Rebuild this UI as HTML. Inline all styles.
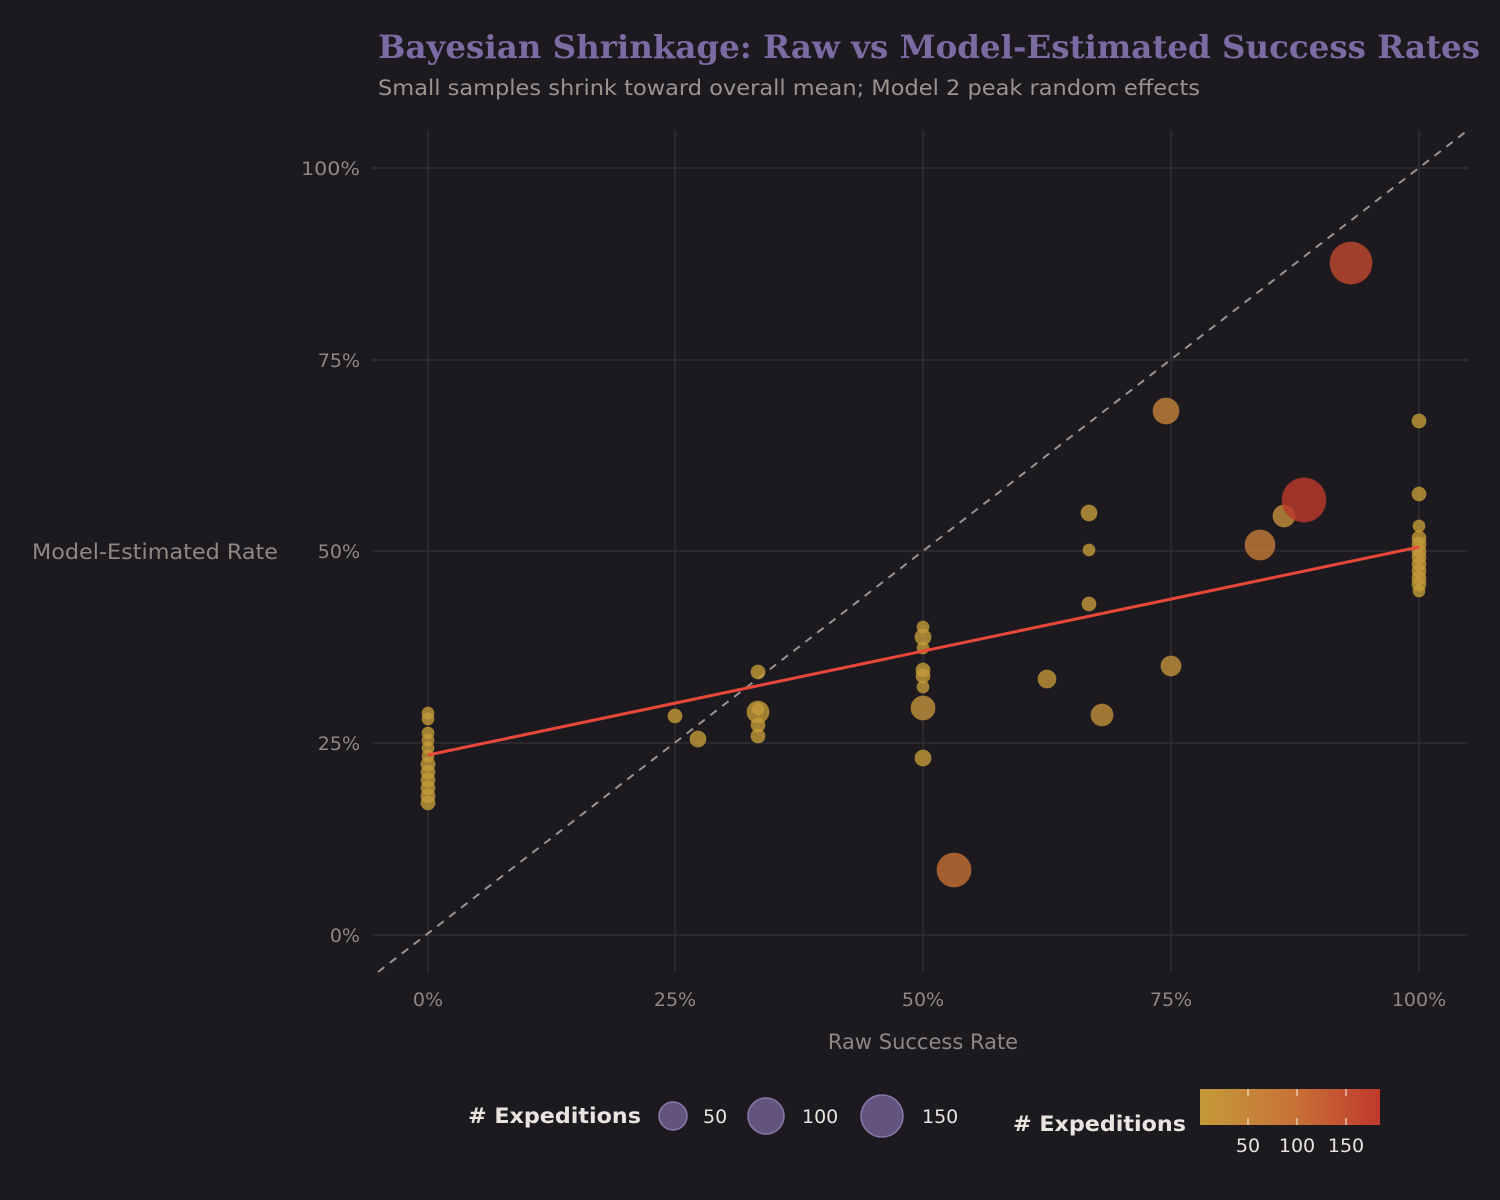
<!DOCTYPE html><html><head><style>body{margin:0;background:#1c1a1f}svg{display:block}text{font-family:"DejaVu Sans","Liberation Sans",sans-serif}</style></head><body>
<svg width="1500" height="1200" xmlns="http://www.w3.org/2000/svg">
<defs><linearGradient id="g" x1="0" x2="1"><stop offset="0" stop-color="#c49a38"/><stop offset="0.5" stop-color="#c87438"/><stop offset="1" stop-color="#c0392b"/></linearGradient></defs>
<rect width="1500" height="1200" fill="#1c1a1f"/>
<text x="378" y="58" font-weight="bold" font-size="32" fill="#7b6ba3" textLength="1102" lengthAdjust="spacingAndGlyphs" style="font-family:'DejaVu Serif','Liberation Serif',serif">Bayesian Shrinkage: Raw vs Model-Estimated Success Rates</text>
<text x="378" y="95" font-size="21" fill="#9a9490" textLength="822" lengthAdjust="spacingAndGlyphs">Small samples shrink toward overall mean; Model 2 peak random effects</text>
<g stroke="#302d33" stroke-width="1.5">
<line x1="428" y1="130" x2="428" y2="972"/><line x1="675" y1="130" x2="675" y2="972"/><line x1="923" y1="130" x2="923" y2="972"/><line x1="1171" y1="130" x2="1171" y2="972"/><line x1="1419" y1="130" x2="1419" y2="972"/>
<line x1="372" y1="168" x2="1468" y2="168"/><line x1="372" y1="360" x2="1468" y2="360"/><line x1="372" y1="551" x2="1468" y2="551"/><line x1="372" y1="743" x2="1468" y2="743"/><line x1="372" y1="935" x2="1468" y2="935"/>
</g>
<g font-size="19" fill="#8e8884" text-anchor="end">
<text x="360" y="175" textLength="59" lengthAdjust="spacingAndGlyphs">100%</text><text x="360" y="367">75%</text><text x="360" y="558">50%</text><text x="360" y="750">25%</text><text x="360" y="942">0%</text></g>
<g font-size="19" fill="#8e8884" text-anchor="middle">
<text x="428" y="1006">0%</text><text x="675" y="1006">25%</text><text x="923" y="1006">50%</text><text x="1171" y="1006">75%</text><text x="1419" y="1006">100%</text>
<text x="923" y="1049" font-size="21">Raw Success Rate</text></g>
<text x="32" y="559" font-size="21" fill="#8e8884" textLength="246" lengthAdjust="spacingAndGlyphs">Model-Estimated Rate</text>
<line x1="378" y1="972" x2="1468" y2="130" stroke="#9a9490" stroke-width="2" stroke-dasharray="8,7"/>
<g fill-opacity="0.8" stroke-opacity="0.5" stroke-width="1">
<g fill="#c49a38" stroke="#c49a38">
<circle cx="428" cy="713" r="6"/><circle cx="428" cy="719" r="6"/><circle cx="428" cy="733" r="6"/><circle cx="428" cy="740" r="6"/><circle cx="428" cy="748" r="6"/><circle cx="428" cy="756" r="6"/><circle cx="428" cy="764" r="7"/><circle cx="428" cy="772" r="7"/><circle cx="428" cy="780" r="7"/><circle cx="428" cy="788" r="7"/><circle cx="428" cy="796" r="7"/><circle cx="428" cy="803" r="7"/>
<circle cx="675" cy="716" r="7"/><circle cx="698" cy="739" r="8"/><circle cx="758" cy="672" r="7"/><circle cx="758" cy="736" r="7"/><circle cx="758" cy="725" r="7"/><circle cx="758" cy="712" r="11"/><circle cx="758" cy="709" r="6"/>
<circle cx="923" cy="627" r="6"/><circle cx="923" cy="637" r="8"/><circle cx="923" cy="648" r="6"/><circle cx="923" cy="670" r="7"/><circle cx="923" cy="676" r="7"/><circle cx="923" cy="687" r="6"/><circle cx="923" cy="758" r="8"/>
<circle cx="1089" cy="513" r="8"/><circle cx="1089" cy="550" r="6"/><circle cx="1089" cy="604" r="7"/>
<circle cx="1419" cy="421" r="7"/><circle cx="1419" cy="494" r="7"/><circle cx="1419" cy="526" r="6"/><circle cx="1419" cy="538" r="7"/><circle cx="1419" cy="544" r="7"/><circle cx="1419" cy="551" r="7"/><circle cx="1419" cy="557" r="7"/><circle cx="1419" cy="564" r="7"/><circle cx="1419" cy="571" r="7"/><circle cx="1419" cy="578" r="7"/><circle cx="1419" cy="584" r="7"/><circle cx="1419" cy="591" r="6"/>
</g>
<circle cx="923" cy="708" r="12" fill="#c2913a" stroke="#c2913a"/>
<circle cx="1047" cy="679" r="9" fill="#c2943a" stroke="#c2943a"/>
<circle cx="1102" cy="715" r="11" fill="#c28f3a" stroke="#c28f3a"/>
<circle cx="1171" cy="666" r="10" fill="#c2923a" stroke="#c2923a"/>
<circle cx="1284" cy="516" r="11" fill="#c48f3a" stroke="#c48f3a"/>
<circle cx="1166" cy="411" r="13" fill="#c4823a" stroke="#c4823a"/>
<circle cx="1260" cy="545" r="15" fill="#c47a38" stroke="#c47a38"/>
<circle cx="954" cy="870" r="17" fill="#c67035" stroke="#c67035"/>
<circle cx="1351" cy="263" r="21" fill="#c2482e" stroke="#c2482e"/>
<circle cx="1304" cy="500" r="22" fill="#be3a2c" stroke="#be3a2c"/>
</g>
<line x1="428" y1="755" x2="1419" y2="547" stroke="#e8473a" stroke-width="3"/>
<text x="468" y="1123" font-size="21" font-weight="bold" fill="#e8e4e0" textLength="173" lengthAdjust="spacingAndGlyphs"># Expeditions</text>
<g fill="#6b5b8a" fill-opacity="0.9" stroke="#8a7aab" stroke-width="1.5">
<circle cx="673" cy="1116" r="14"/><circle cx="766" cy="1116" r="18"/><circle cx="882" cy="1116" r="21"/></g>
<g font-size="19" fill="#e8e4e0"><text x="703" y="1123">50</text><text x="802" y="1123">100</text><text x="922" y="1123">150</text></g>
<text x="1013" y="1131" font-size="21" font-weight="bold" fill="#e8e4e0" textLength="173" lengthAdjust="spacingAndGlyphs"># Expeditions</text>
<rect x="1200" y="1089" width="180" height="36" fill="url(#g)"/>
<g stroke="#f0e0d0" stroke-width="1.5" opacity="0.8"><line x1="1248" y1="1089" x2="1248" y2="1096"/><line x1="1297" y1="1089" x2="1297" y2="1096"/><line x1="1346" y1="1089" x2="1346" y2="1096"/><line x1="1248" y1="1118" x2="1248" y2="1125"/><line x1="1297" y1="1118" x2="1297" y2="1125"/><line x1="1346" y1="1118" x2="1346" y2="1125"/></g>
<g font-size="19" fill="#e8e4e0" text-anchor="middle"><text x="1248" y="1152">50</text><text x="1297" y="1152">100</text><text x="1346" y="1152">150</text></g>
</svg></body></html>
